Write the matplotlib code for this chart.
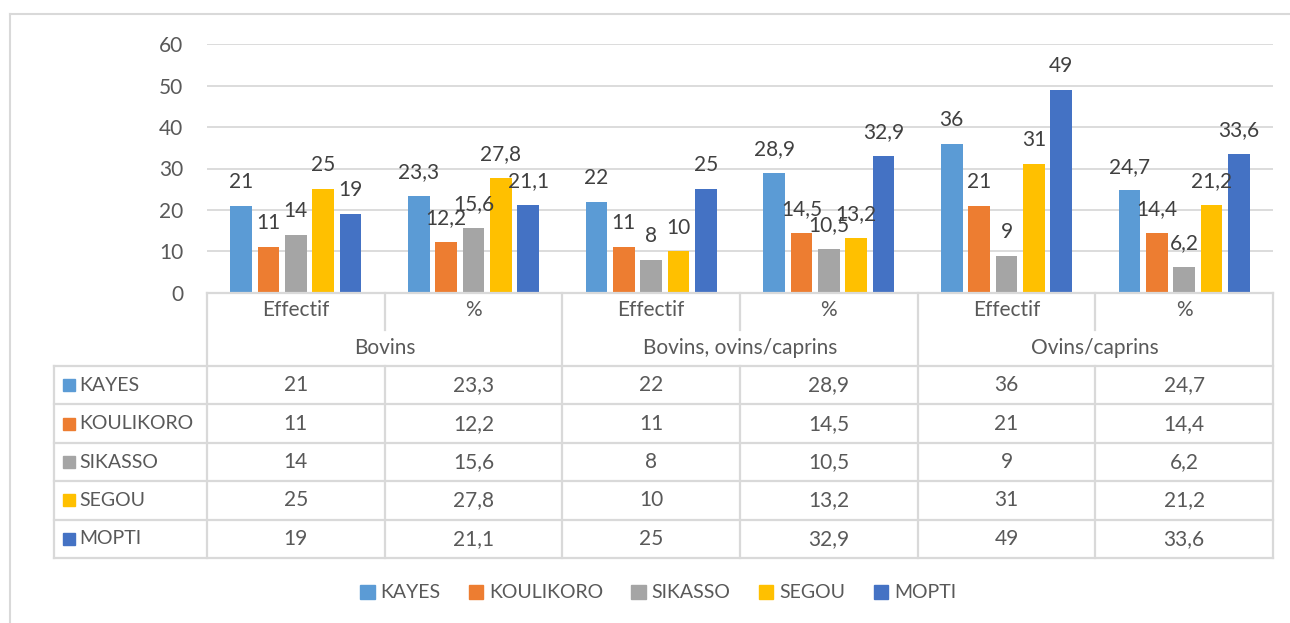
import matplotlib
matplotlib.use("Agg")
import matplotlib.pyplot as plt
import numpy as np

plt.rcParams['font.family'] = ['Lato', 'DejaVu Sans']

regions = ["KAYES", "KOULIKORO", "SIKASSO", "SEGOU", "MOPTI"]
colors = ["#5B9BD5", "#ED7D31", "#A5A5A5", "#FFC000", "#4472C4"]
groups = ["Bovins", "Bovins, ovins/caprins", "Ovins/caprins"]
subcats = ["Effectif", "%"]

kayes = [21, 23.3, 22, 28.9, 36, 24.7]
koulikoro = [11, 12.2, 11, 14.5, 21, 14.4]
sikasso = [14, 15.6, 8, 10.5, 9, 6.2]
segou = [25, 27.8, 10, 13.2, 31, 21.2]
mopti = [19, 21.1, 25, 32.9, 49, 33.6]
series = [kayes, koulikoro, sikasso, segou, mopti]

W, H = 1290, 623
fig = plt.figure(figsize=(W / 100, H / 100), dpi=100)
txt = "#595959"
grid = "#D9D9D9"
fs = 14
fn = 15

# plot area in pixels
x0, x1, ytop, ybot = 207, 1273, 44, 293
ax = fig.add_axes([x0 / W, 1 - ybot / H, (x1 - x0) / W, (ybot - ytop) / H])
ax.set_ylim(0, 60)
ax.set_xlim(0, 6)
ax.set_yticks(range(0, 61, 10))
ax.tick_params(axis='y', length=0, labelsize=fn, colors=txt, pad=17)
ax.set_xticks([])
for s in ax.spines.values():
    s.set_visible(False)
ax.yaxis.grid(True, color=grid, lw=1.3)
ax.set_axisbelow(True)

x = np.arange(6) + 0.5
slot = 0.154
bw = 0.121
for i, (vals, c) in enumerate(zip(series, colors)):
    pos = x + (i - 2) * slot
    bars = ax.bar(pos, vals, width=bw, color=c, zorder=2)
    for b, v in zip(bars, vals):
        ax.annotate(str(v).replace('.', ','), (b.get_x() + b.get_width() / 2, v),
                    xytext=(0, 10), textcoords='offset points', ha='center', va='bottom',
                    fontsize=fn, color="#404040", annotation_clip=False)

# overlay axes in pixel coordinates for the data table
ov = fig.add_axes([0, 0, 1, 1])
ov.set_xlim(0, W)
ov.set_ylim(H, 0)
ov.axis('off')
ov.patch.set_alpha(0)

lc = "#D9D9D9"
lw = 1.6
cw = (x1 - x0) / 6
cols = [x0 + k * cw for k in range(7)]
r_sub, r_grp, r0 = 293, 330, 366
rh = 38.4
rows = [r0 + k * rh for k in range(6)]
tl = 54

# outer chart border (top and left only visible)
ov.plot([10, W], [14, 14], color=lc, lw=1.5)
ov.plot([10, 10], [14, H], color=lc, lw=1.5)

# header lines
ov.plot([x0, x1], [r_sub, r_sub], color=lc, lw=lw)
for k, cx in enumerate(cols):
    if k % 2 == 0:
        ov.plot([cx, cx], [r_sub, rows[-1]], color=lc, lw=lw)
    else:
        ov.plot([cx, cx], [r_sub, r_grp], color=lc, lw=lw)
        ov.plot([cx, cx], [r0, rows[-1]], color=lc, lw=lw)
ov.plot([tl, tl], [r0, rows[-1]], color=lc, lw=lw)
for ry in rows:
    ov.plot([tl, x1], [ry, ry], color=lc, lw=lw)

for k in range(6):
    ov.text((cols[k] + cols[k + 1]) / 2, (r_sub + r_grp) / 2 - 2, subcats[k % 2],
            ha='center', va='center', fontsize=fn, color=txt)
for g in range(3):
    ov.text((cols[2 * g] + cols[2 * g + 2]) / 2, (r_grp + r0) / 2, groups[g],
            ha='center', va='center', fontsize=fn, color=txt)

for r, (name, vals, c) in enumerate(zip(regions, series, colors)):
    cy = (rows[r] + rows[r + 1]) / 2
    ov.add_patch(plt.Rectangle((63, cy - 6), 12, 12, color=c))
    ov.text(79, cy, name, ha='left', va='center', fontsize=fs, color=txt)
    for k, v in enumerate(vals):
        ov.text((cols[k] + cols[k + 1]) / 2, cy, str(v).replace('.', ','),
                ha='center', va='center', fontsize=fn, color=txt)

# legend
handles = [plt.Rectangle((0, 0), 1, 1, color=c) for c in colors]
fig.legend(handles, regions, loc='center', bbox_to_anchor=(658 / W, 1 - 593 / H),
           ncol=5, frameon=False, fontsize=fs, labelcolor=txt,
           handlelength=0.75, handleheight=0.75, handletextpad=0.3, columnspacing=1.45)

fig.savefig("out.png", dpi=100)
